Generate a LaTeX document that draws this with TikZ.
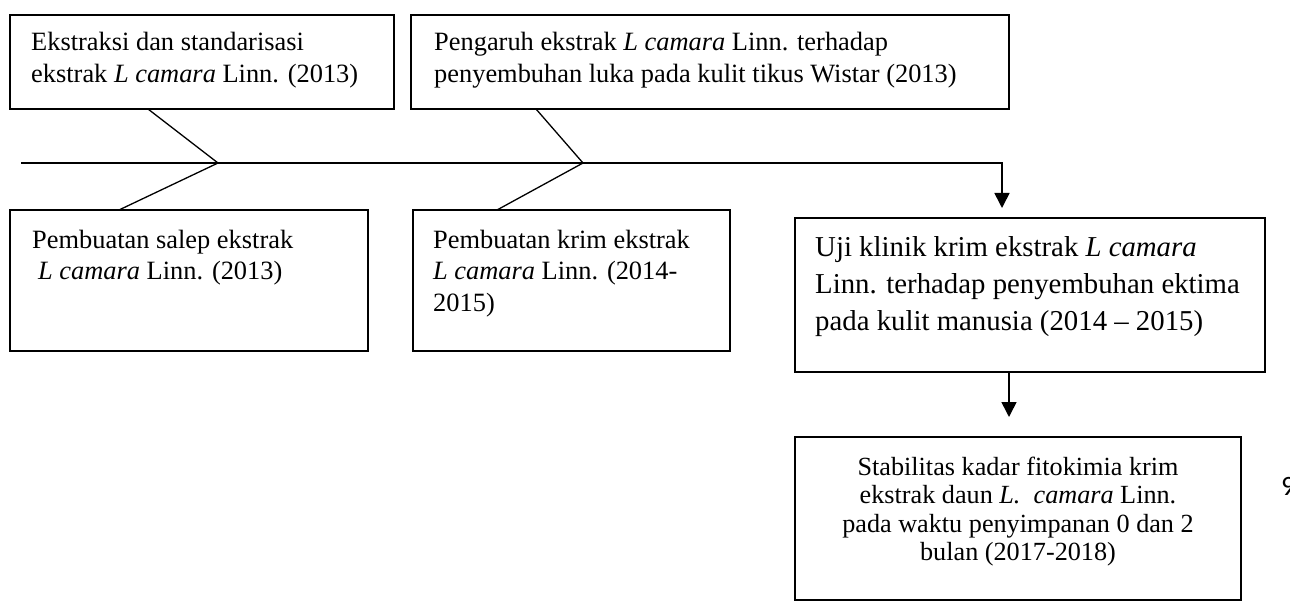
\documentclass[tikz,border=0pt]{standalone}
\usepackage{fontspec}
\setmainfont{Liberation Serif}
\newfontfamily\ninefont{Carlito}
\usetikzlibrary{arrows.meta,calc}
\begin{document}
\begin{tikzpicture}[x=1bp,y=-1bp,
  rbox/.style={draw=black, line width=1.6bp, inner sep=0pt, outer sep=0pt, anchor=north west},
  tA/.style={inner sep=0pt, anchor=base west, font=\fontsize{26.4bp}{30bp}\selectfont},
  tB/.style={inner sep=0pt, anchor=base west, font=\fontsize{28.8bp}{35bp}\selectfont},
  tC/.style={inner sep=0pt, anchor=base, font=\fontsize{26.2bp}{30bp}\selectfont},
  fish/.style={line width=1.3bp},
  arr/.style={line width=1.6bp, line join=miter, -{Triangle[width=15bp,length=15bp]}}]
\useasboundingbox (0,0) rectangle (1290,607);

% boxes
\node[rbox, minimum width=384bp, minimum height=94bp] (b1) at (10,15) {};
\node[rbox, minimum width=598bp, minimum height=94bp] (b2) at (411,15) {};
\node[rbox, minimum width=358bp, minimum height=141bp] (b3) at (10,210) {};
\node[rbox, minimum width=317bp, minimum height=141bp] (b4) at (413,210) {};
\node[rbox, minimum width=470bp, minimum height=154bp] (b5) at (795,218) {};
\node[rbox, minimum width=446bp, minimum height=163bp] (b6) at (795,437) {};

% texts
\node[tA] (t1a) at (31,51) {Ekstraksi dan standarisasi};
\node[tA] (t1b) at (31,83) {ekstrak \textit{L camara} Linn. (2013)};
\node[tA] (t2a) at (434,51) {Pengaruh ekstrak \textit{L camara} Linn. terhadap};
\node[tA] (t2b) at (434,83) {penyembuhan luka pada kulit tikus Wistar (2013)};
\node[tA] (t3a) at (32,248.5) {Pembuatan salep ekstrak};
\node[tA] (t3b) at (38,280) {\textit{L camara} Linn. (2013)};
\node[tA] (t4a) at (433,248.5) {Pembuatan krim ekstrak};
\node[tA] (t4b) at (433,280) {\textit{L camara} Linn. (2014-};
\node[tA] (t4c) at (433,311.5) {2015)};
\node[tB] (t5a) at (815,257) {Uji klinik krim ekstrak \textit{L camara}};
\node[tB] (t5b) at (815,294) {Linn. terhadap penyembuhan ektima};
\node[tB] (t5c) at (815,331) {pada kulit manusia (2014 – 2015)};
\node[tC] (t6a) at (1018,475) {Stabilitas kadar fitokimia krim};
\node[tC] (t6b) at (1018,503.5) {ekstrak daun \textit{L.}\ \ \textit{camara} Linn.};
\node[tC] (t6c) at (1018,532) {pada waktu penyimpanan 0 dan 2};
\node[tC] (t6d) at (1018,560.5) {bulan (2017-2018)};
\node[inner sep=0pt, anchor=base west, font=\ninefont\fontsize{28bp}{32bp}\selectfont] (nine) at (1281,495) {9};

% spine and connectors
\coordinate (sL) at (21,163);
\coordinate (ap1) at (218,163);
\coordinate (ap2) at (583,163);
\coordinate (cr) at (1002,163);
\draw[arr, shorten >=10bp] (sL) -- (cr) -- (cr |- b5.north);
\draw[fish] ($(b1.south west)+(138,0)$) -- (ap1) -- ($(b3.north west)+(109,0)$);
\draw[fish] ($(b2.south west)+(125,0)$) -- (ap2) -- ($(b4.north west)+(84,0)$);
\draw[arr, shorten >=20bp] ($(b5.south west)+(214,0)$) -- ($(b6.north west)+(214,0)$);
\end{tikzpicture}
\end{document}
